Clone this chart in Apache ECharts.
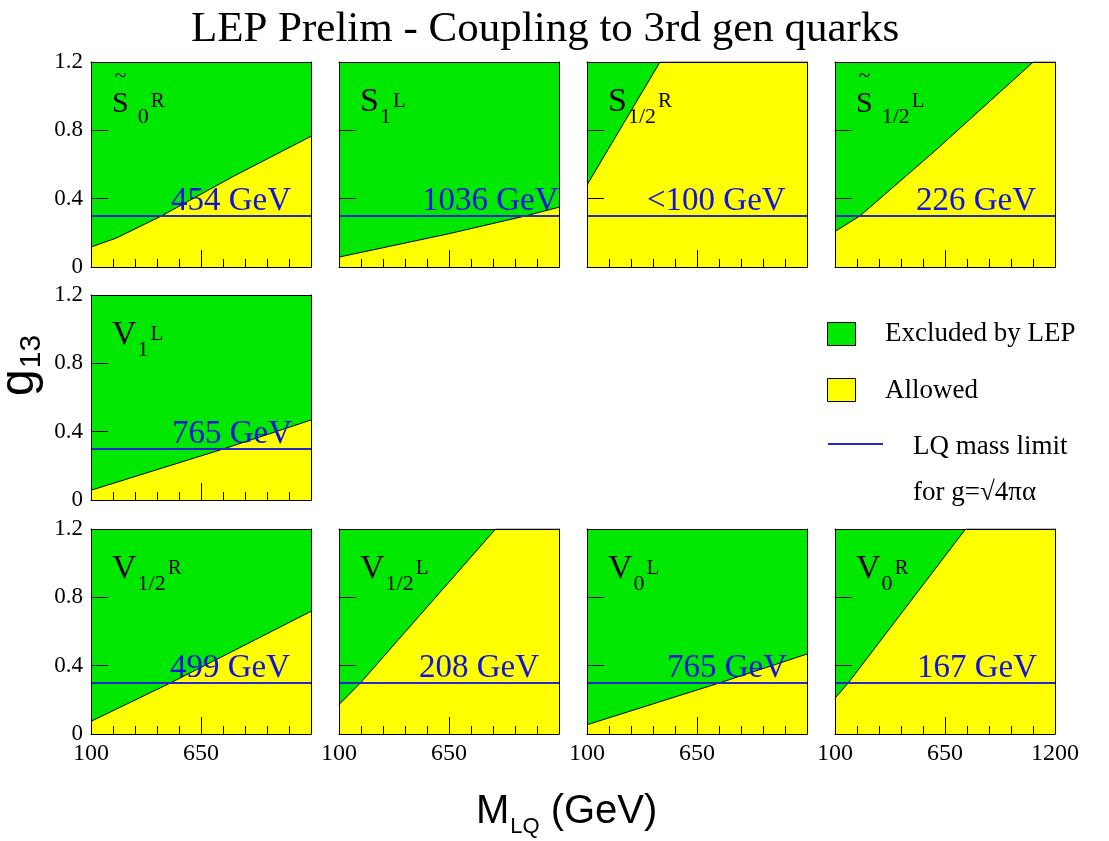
<!DOCTYPE html>
<html>
<head>
<meta charset="utf-8">
<title>LEP Prelim - Coupling to 3rd gen quarks</title>
<script src="https://cdn.jsdelivr.net/npm/echarts@6/dist/echarts.min.js"></script>
<style>
  html, body { margin: 0; padding: 0; background: #fff; }
  #chart { width: 1109px; height: 841px; }
</style>
</head>
<body>
<div id="chart"></div>
<script>
// axis ranges
const massRange = [100, 1200];
const massStep = 550;
const couplingRange = [0, 1.2];
const couplingStep = 0.4;
const limitCoupling = 0.3; // g = sqrt(4 pi alpha)

// exclusion boundary per leptoquark: [M_LQ (GeV), g13]
const edgeS0R = [[100, 0.117], [228, 0.17], [454, 0.30], [811, 0.53], [1200, 0.765]];
const edgeS1L = [[100, 0.058], [650, 0.195], [1036, 0.30], [1200, 0.35]];
const edgeS12R = [[100, 0.48], [465, 1.2], [1200, 1.2]];
const edgeS12L = [[100, 0.208], [226, 0.30], [600, 0.68], [1091, 1.2], [1200, 1.2]];
const edgeV1L = [[100, 0.057], [765, 0.30], [1200, 0.468]];
const edgeV12R = [[100, 0.074], [499, 0.30], [1200, 0.718]];
const edgeV12L = [[100, 0.172], [208, 0.30], [883, 1.2], [1200, 1.2]];
const edgeV0L = [[100, 0.054], [765, 0.30], [1200, 0.468]];
const edgeV0R = [[100, 0.21], [167, 0.30], [753, 1.2], [1200, 1.2]];
const panelEdges = [edgeS0R, edgeS1L, edgeS12R, edgeS12L, edgeV1L, edgeV12R, edgeV12L, edgeV0L, edgeV0R];

// panel names: letter, subscript, superscript, tilde
const labelMain = ['S', 'S', 'S', 'S', 'V', 'V', 'V', 'V', 'V'];
const labelSub = ['0', '1', '1/2', '1/2', '1', '1/2', '1/2', '0', '0'];
const labelSup = ['R', 'L', 'R', 'L', 'L', 'R', 'L', 'L', 'R'];
const labelTilde = [true, false, false, true, false, false, false, false, false];
const massLimits = ['454 GeV', '1036 GeV', '<100 GeV', '226 GeV', '765 GeV', '499 GeV', '208 GeV', '765 GeV', '167 GeV'];

// layout
const panelCol = [0, 1, 2, 3, 0, 0, 1, 2, 3];
const panelRow = [0, 0, 0, 0, 1, 2, 2, 2, 2];
const colLeft = [91, 339, 587, 835];
const rowTop = [62, 295, 529];
const PW = 220, PH = 205;
const massLabelDx = [80, 83, 60, 81, 81, 79, 80, 80, 82];

const GREEN = '#00e800';
const YELLOW = '#ffff00';
const BLUE = '#1212e0';
const BLUE_LINE = '#2626d0';
const SERIF = '"Liberation Serif", "Times New Roman", serif';
const SANS = '"Liberation Sans", Arial, sans-serif';

const measureCtx = document.createElement('canvas').getContext('2d');
function textWidth(str, size, family) {
  measureCtx.font = size + 'px ' + family;
  return measureCtx.measureText(str).width;
}

// text centred vertically at midY
function txtMid(x, midY, str, size, opt) {
  opt = opt || {};
  const family = opt.family || SERIF;
  const align = opt.align || 'left';
  return {
    type: 'text', x: x, y: midY, z: 100, silent: true,
    style: {
      text: str,
      fill: opt.color || '#000',
      font: size + 'px ' + family,
      align: align, verticalAlign: 'middle',
      textAlign: align, textVerticalAlign: 'middle'
    }
  };
}
// text placed by its baseline
function txt(x, baseline, str, size, opt) {
  return txtMid(x, baseline - 0.34 * size, str, size, opt);
}

const grids = [], xAxes = [], yAxes = [], series = [], graphics = [];
const n = panelEdges.length;

for (let i = 0; i < n; i++) {
  const col = panelCol[i], row = panelRow[i];
  const left = colLeft[col], top = rowTop[row];
  const bottomRow = row === 2;

  grids.push({ left: left, top: top, width: PW, height: PH, show: true, backgroundColor: GREEN, borderWidth: 0 });

  xAxes[i] = {
    type: 'value', gridIndex: i, position: 'bottom', z: 10,
    min: massRange[0], max: massRange[1], interval: massStep,
    axisLine: { show: true, onZero: false, lineStyle: { color: '#000', width: 1 } },
    axisTick: { show: true, inside: true, length: 17, lineStyle: { color: '#000', width: 1 } },
    minorTick: { show: true, splitNumber: 5, length: 8, lineStyle: { color: '#000', width: 1 } },
    splitLine: { show: false },
    axisLabel: {
      show: bottomRow, margin: 8, color: '#000', fontSize: 24, fontFamily: SERIF,
      formatter: function (v) { return (v === massRange[1] && col !== 3) ? '' : String(v); }
    }
  };
  xAxes[n + i] = {
    type: 'value', gridIndex: i, position: 'top', z: 10,
    min: massRange[0], max: massRange[1],
    axisLine: { show: true, onZero: false, lineStyle: { color: '#000', width: 1 } },
    axisTick: { show: false }, axisLabel: { show: false }, splitLine: { show: false }
  };
  yAxes[i] = {
    type: 'value', gridIndex: i, position: 'left', z: 10,
    min: couplingRange[0], max: couplingRange[1], interval: couplingStep,
    axisLine: { show: true, onZero: false, lineStyle: { color: '#000', width: 1 } },
    axisTick: { show: true, inside: true, length: 17, lineStyle: { color: '#000', width: 1 } },
    splitLine: { show: false },
    axisLabel: {
      show: col === 0, margin: 8, color: '#000', fontSize: 23, fontFamily: SERIF,
      formatter: function (v) { return v === 0 ? '0' : v.toFixed(1); }
    }
  };
  yAxes[n + i] = {
    type: 'value', gridIndex: i, position: 'right', z: 10,
    min: couplingRange[0], max: couplingRange[1],
    axisLine: { show: true, onZero: false, lineStyle: { color: '#000', width: 1 } },
    axisTick: { show: false }, axisLabel: { show: false }, splitLine: { show: false }
  };

  series.push({
    type: 'line', xAxisIndex: i, yAxisIndex: i, data: panelEdges[i],
    symbol: 'none', silent: true, animation: false, z: 2,
    lineStyle: { color: '#000', width: 1 },
    areaStyle: { color: YELLOW, opacity: 1 },
    markLine: {
      silent: true, animation: false, symbol: ['none', 'none'],
      label: { show: false },
      lineStyle: { color: BLUE_LINE, width: 2, type: 'solid' },
      data: [{ yAxis: limitCoupling }]
    }
  });

  // panel name, e.g. S~ 0 R
  const mainSize = labelTilde[i] ? 30 : 34;
  const x0 = left + 21;
  graphics.push(txt(x0, top + 52, labelMain[i], mainSize));
  const mainW = textWidth(labelMain[i], mainSize, SERIF);
  if (labelTilde[i]) {
    graphics.push(txtMid(x0 + mainW / 2, top + 14, '~', 22, { align: 'center' }));
  }
  const subX = x0 + mainW + (labelTilde[i] ? 9 : 1);
  graphics.push(txt(subX, top + 63, labelSub[i], 22));
  const supX = subX + textWidth(labelSub[i], 22, SERIF) + 2;
  graphics.push(txt(supX, top + 47, labelSup[i], 21));

  // LQ mass limit text
  graphics.push(txt(left + massLabelDx[i], top + 151, massLimits[i], 33, { color: BLUE }));
}

// title
graphics.push(txt(545, 44, 'LEP Prelim - Coupling to 3rd gen quarks', 43, { align: 'center' }));

// y axis title g13, reading bottom to top
const gW = textWidth('g', 48, SANS);
graphics.push({
  type: 'group', x: 36, y: 396, rotation: Math.PI / 2, z: 100,
  children: [
    txt(0, 0, 'g', 48, { family: SANS }),
    txt(gW + 1, 6, '13', 30, { family: SANS })
  ]
});

// x axis title M_LQ (GeV)
const mX = 476;
const mW = textWidth('M', 40, SANS);
const lqW = textWidth('LQ', 22, SANS);
graphics.push(txt(mX, 826, 'M', 40, { family: SANS }));
graphics.push(txt(mX + mW + 1, 834, 'LQ', 22, { family: SANS }));
graphics.push(txt(mX + mW + lqW + 12, 826, '(GeV)', 40, { family: SANS }));

// legend
graphics.push({ type: 'rect', z: 100, silent: true, shape: { x: 827.5, y: 322.5, width: 28, height: 23 }, style: { fill: GREEN, stroke: '#000', lineWidth: 1 } });
graphics.push(txt(885, 343, 'Excluded by LEP', 27));
graphics.push({ type: 'rect', z: 100, silent: true, shape: { x: 827.5, y: 378.5, width: 28, height: 23 }, style: { fill: YELLOW, stroke: '#000', lineWidth: 1 } });
graphics.push(txt(885, 400, 'Allowed', 27));
graphics.push({ type: 'line', z: 100, silent: true, shape: { x1: 828, y1: 444, x2: 883, y2: 444 }, style: { stroke: BLUE_LINE, lineWidth: 2 } });
graphics.push(txt(913, 456, 'LQ mass limit', 27));
graphics.push(txt(913, 502, 'for g=\u221A4\u03C0\u03B1', 27));

const chart = echarts.init(document.getElementById('chart'), null, { renderer: 'canvas' });
chart.setOption({
  animation: false,
  backgroundColor: '#fff',
  grid: grids,
  xAxis: xAxes,
  yAxis: yAxes,
  series: series,
  graphic: { elements: graphics }
});
</script>
</body>
</html>
